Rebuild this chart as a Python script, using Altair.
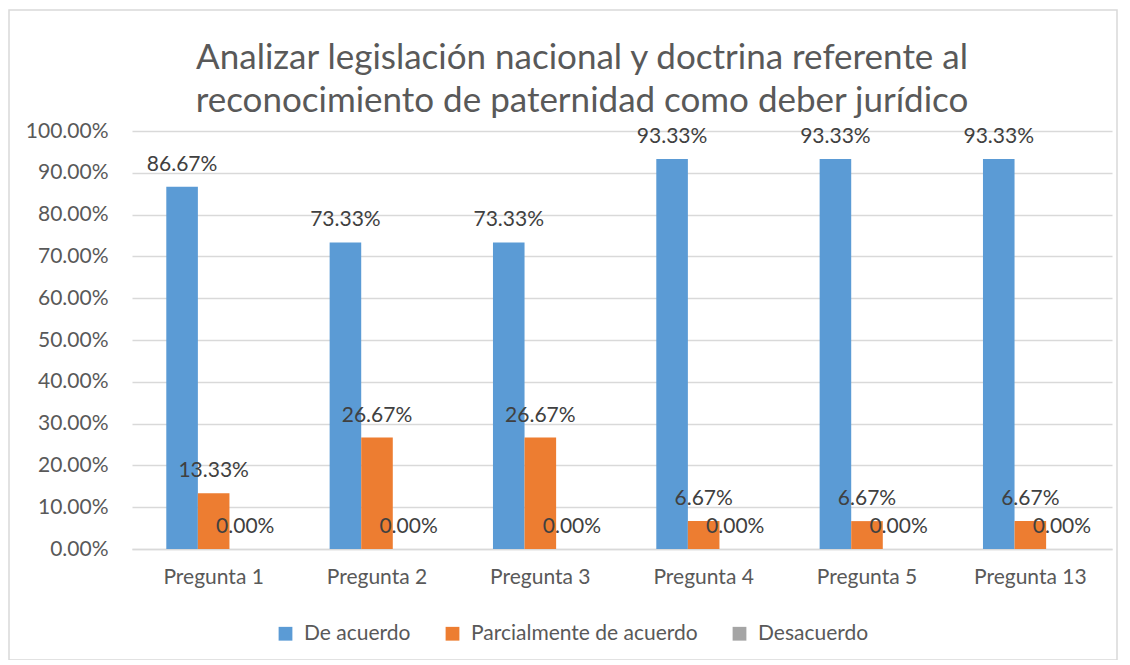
import altair as alt
import pandas as pd

preguntas = ["Pregunta 1", "Pregunta 2", "Pregunta 3", "Pregunta 4", "Pregunta 5", "Pregunta 13"]
series = ["De acuerdo", "Parcialmente de acuerdo", "Desacuerdo"]
de_acuerdo = [0.8667, 0.7333, 0.7333, 0.9333, 0.9333, 0.9333]
parcial = [0.1333, 0.2667, 0.2667, 0.0667, 0.0667, 0.0667]
desacuerdo = [0.0, 0.0, 0.0, 0.0, 0.0, 0.0]
colors = ["#5b9bd5", "#ed7d31", "#a5a5a5"]
y_ticks = [i / 10 for i in range(11)]

rows = []
for s, vals in zip(series, [de_acuerdo, parcial, desacuerdo]):
    for p, v in zip(preguntas, vals):
        rows.append({"Pregunta": p, "Serie": s, "Valor": v})
df = pd.DataFrame(rows)

FONT = "Lato"
FS = 21

x_enc = alt.X("Pregunta:N", sort=preguntas, title=None,
              scale=alt.Scale(paddingInner=0.42, paddingOuter=0.21),
              axis=alt.Axis(labelAngle=0, labelFontSize=FS, labelColor="#595959",
                            labelFont=FONT, labelPadding=17, ticks=False,
                            domainColor="#d9d9d9", domainWidth=1.5, grid=False))
y_enc = alt.Y("Valor:Q", title=None,
              scale=alt.Scale(domain=[0, 1], nice=False),
              axis=alt.Axis(values=y_ticks, format=".2%", labelFontSize=FS,
                            labelColor="#595959", labelFont=FONT, labelPadding=24,
                            ticks=False, domain=False, gridColor="#d9d9d9",
                            gridWidth=1.5))
xoff = alt.XOffset("Serie:N", sort=series, scale=alt.Scale(domain=series))

bars = alt.Chart(df).mark_bar().encode(
    x=x_enc, y=y_enc, xOffset=xoff,
    color=alt.Color("Serie:N", sort=series,
                    scale=alt.Scale(domain=series, range=colors),
                    legend=alt.Legend(title=None, orient="none", direction="horizontal",
                                      legendX=143, legendY=492, columns=3,
                                      symbolType="square", symbolSize=190,
                                      symbolStrokeWidth=0, labelFontSize=FS,
                                      labelFont=FONT, labelColor="#595959",
                                      labelLimit=400,
                                      columnPadding=31, labelOffset=8)),
)

labels = alt.Chart(df).mark_text(fontSize=FS, font=FONT, color="#404040",
                                 baseline="alphabetic", dy=-16).encode(
    x=alt.X("Pregunta:N", sort=preguntas),
    y="Valor:Q", xOffset=xoff,
    text=alt.Text("Valor:Q", format=".2%"),
)

border = alt.Chart(pd.DataFrame({"a": [0]})).mark_rect(
    fill=None, stroke="#d9d9d9", strokeWidth=1.5).encode(
    x=alt.value(-123), x2=alt.value(985), y=alt.value(-121), y2=alt.value(529))

chart = alt.layer(border, bars, labels).properties(
    width=980, height=418,
    title=alt.TitleParams(
        ["Analizar legislación nacional y doctrina referente al",
         "reconocimiento de paternidad como deber jurídico"],
        fontSize=35, font=FONT, fontWeight="normal", color="#595959",
        lineHeight=43, anchor="middle", dx=-40, offset=-110),
    autosize=alt.AutoSizeParams(type="none"),
    padding={"left": 124, "top": 123, "right": 10, "bottom": 111},
).configure_view(stroke=None)

chart.save("out.html", embed_options={"renderer": "svg", "actions": False})
